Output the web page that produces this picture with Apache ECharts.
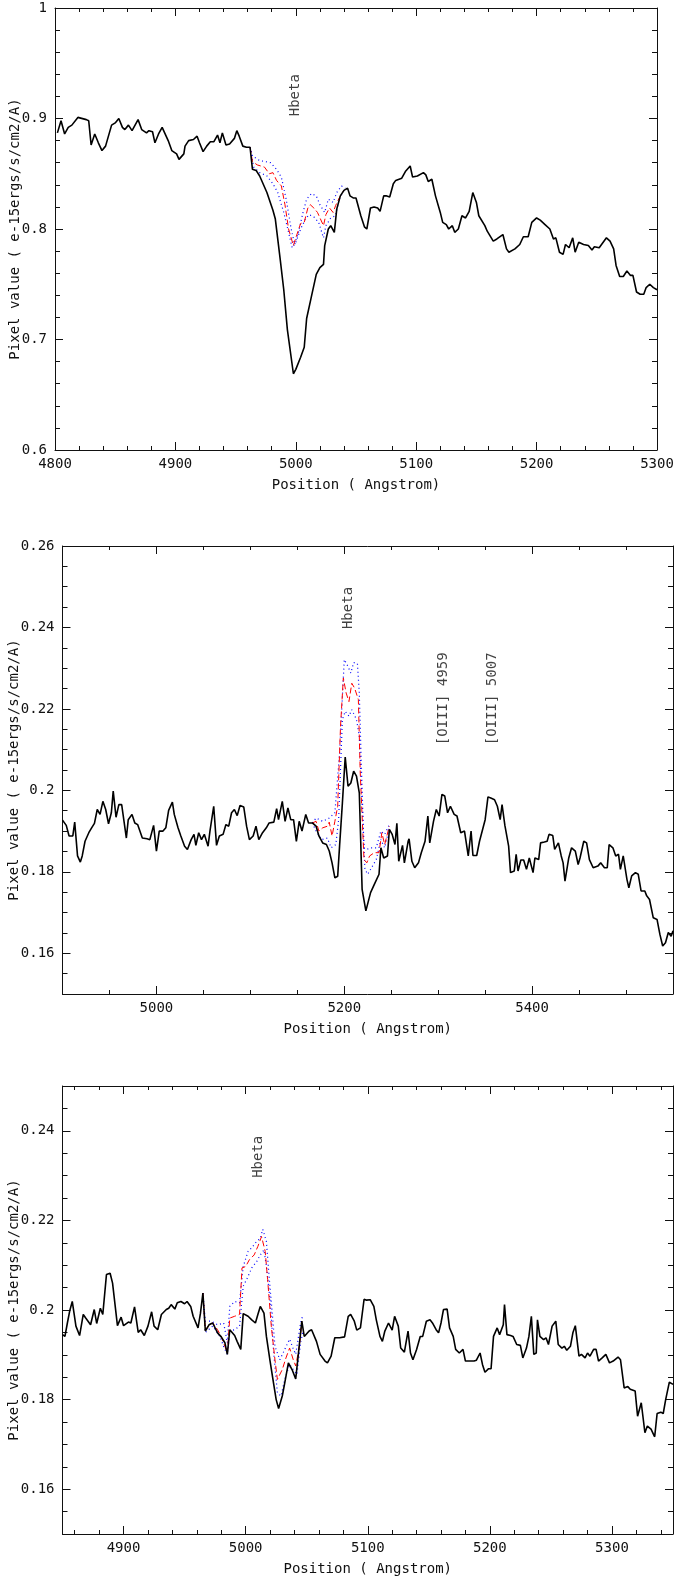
<!doctype html>
<html>
<head>
<meta charset="UTF-8">
<title>Hbeta fits</title>
<script src="https://cdn.jsdelivr.net/npm/echarts@6.0.0/dist/echarts.min.js"></script>
<style>
  html, body { margin: 0; padding: 0; background: #fff; }
  #chart { width: 674px; height: 1577px; }
</style>
</head>
<body>
<div id="chart"></div>
<script>
// ---- data: [wavelength (Angstrom), pixel value] ----
var obs1 = [[4802,0.887],[4805,0.898],[4808,0.886],[4811,0.892],[4814,0.894],[4819,0.901],[4826,0.899],[4828,0.898],[4830,0.876],[4833,0.886],[4836,0.878],[4839,0.871],[4842,0.875],[4847,0.894],[4850,0.896],[4853,0.900],[4856,0.892],[4858,0.890],[4861,0.894],[4864,0.889],[4869,0.899],[4872,0.890],[4876,0.887],[4878,0.889],[4881,0.888],[4883,0.878],[4886,0.886],[4889,0.892],[4894,0.880],[4897,0.871],[4901,0.868],[4903,0.863],[4907,0.868],[4908,0.875],[4911,0.880],[4915,0.881],[4918,0.884],[4920,0.878],[4923,0.870],[4926,0.875],[4929,0.879],[4932,0.879],[4935,0.885],[4937,0.878],[4939,0.887],[4942,0.876],[4945,0.877],[4949,0.882],[4951,0.889],[4953,0.884],[4956,0.875],[4959,0.874],[4962,0.874],[4964,0.854],[4967,0.853],[4970,0.848],[4976,0.833],[4981,0.817],[4983,0.809],[4987,0.773],[4990,0.745],[4993,0.709],[4998,0.669],[5000,0.673],[5004,0.684],[5007,0.693],[5009,0.719],[5013,0.739],[5017,0.759],[5020,0.765],[5023,0.768],[5024,0.785],[5027,0.800],[5029,0.803],[5032,0.797],[5034,0.818],[5037,0.830],[5040,0.835],[5043,0.837],[5045,0.830],[5048,0.828],[5050,0.828],[5054,0.812],[5057,0.802],[5059,0.800],[5062,0.819],[5065,0.820],[5068,0.819],[5070,0.816],[5073,0.830],[5075,0.830],[5078,0.829],[5081,0.841],[5083,0.844],[5088,0.846],[5091,0.852],[5095,0.857],[5097,0.847],[5101,0.848],[5106,0.851],[5108,0.849],[5110,0.843],[5113,0.845],[5116,0.830],[5120,0.815],[5122,0.806],[5125,0.804],[5127,0.800],[5130,0.803],[5132,0.797],[5135,0.800],[5138,0.812],[5141,0.810],[5144,0.816],[5147,0.833],[5150,0.824],[5152,0.812],[5157,0.803],[5159,0.798],[5164,0.789],[5167,0.791],[5172,0.795],[5175,0.782],[5177,0.779],[5182,0.782],[5186,0.786],[5189,0.793],[5193,0.793],[5196,0.806],[5200,0.810],[5203,0.808],[5207,0.804],[5211,0.800],[5214,0.791],[5216,0.792],[5219,0.779],[5222,0.777],[5224,0.786],[5227,0.783],[5230,0.792],[5232,0.779],[5235,0.788],[5239,0.786],[5243,0.785],[5246,0.781],[5248,0.784],[5252,0.783],[5258,0.792],[5261,0.789],[5264,0.782],[5266,0.767],[5269,0.757],[5272,0.757],[5275,0.762],[5278,0.758],[5280,0.758],[5283,0.743],[5286,0.741],[5289,0.741],[5291,0.747],[5294,0.750],[5297,0.747],[5300,0.745]];
var fit1 = [[4962,0.874],[4964,0.861],[4968,0.858],[4974,0.856],[4978,0.850],[4981,0.851],[4984,0.844],[4988,0.839],[4991,0.822],[4994,0.800],[4998,0.785],[5000,0.792],[5004,0.805],[5007,0.806],[5010,0.819],[5012,0.822],[5015,0.819],[5018,0.815],[5023,0.803],[5025,0.813],[5028,0.819],[5031,0.815],[5033,0.821],[5036,0.828],[5040,0.835]];
var hi1 = [[4962,0.874],[4964,0.866],[4970,0.862],[4979,0.860],[4984,0.854],[4988,0.847],[4992,0.827],[4996,0.801],[4999,0.786],[5002,0.796],[5006,0.815],[5009,0.827],[5013,0.832],[5017,0.830],[5020,0.822],[5024,0.815],[5027,0.827],[5031,0.824],[5034,0.833],[5038,0.839],[5041,0.837]];
var lo1 = [[4962,0.874],[4965,0.856],[4970,0.851],[4976,0.848],[4981,0.841],[4985,0.833],[4990,0.815],[4994,0.797],[4997,0.783],[5000,0.788],[5004,0.800],[5008,0.809],[5011,0.813],[5015,0.811],[5019,0.806],[5023,0.792],[5025,0.803],[5029,0.810],[5033,0.812],[5036,0.827],[5040,0.835]];

var obs2 = [[4900,0.1927],[4904,0.1914],[4907,0.1888],[4911,0.1888],[4913,0.1922],[4916,0.1839],[4919,0.1824],[4921,0.1839],[4924,0.1875],[4928,0.1896],[4931,0.1908],[4934,0.1919],[4937,0.1953],[4940,0.1941],[4943,0.1973],[4946,0.1953],[4949,0.1918],[4952,0.1945],[4954,0.1998],[4957,0.1934],[4960,0.1965],[4963,0.1965],[4968,0.1883],[4970,0.1928],[4974,0.1941],[4977,0.1920],[4980,0.1916],[4985,0.1883],[4990,0.1881],[4993,0.1879],[4997,0.1914],[5000,0.1851],[5003,0.1900],[5007,0.1900],[5010,0.1908],[5013,0.1951],[5017,0.1971],[5019,0.1941],[5023,0.1908],[5026,0.1888],[5030,0.1863],[5033,0.1855],[5037,0.1879],[5040,0.1892],[5042,0.1865],[5045,0.1896],[5048,0.1879],[5051,0.1892],[5055,0.1863],[5057,0.1900],[5061,0.1961],[5064,0.1865],[5067,0.1888],[5071,0.1892],[5074,0.1916],[5077,0.1912],[5080,0.1945],[5083,0.1953],[5086,0.1938],[5089,0.1963],[5093,0.1959],[5096,0.1912],[5099,0.1879],[5103,0.1888],[5106,0.1912],[5109,0.1879],[5113,0.1896],[5117,0.1908],[5120,0.1920],[5125,0.1922],[5128,0.1955],[5130,0.1928],[5134,0.1973],[5137,0.1924],[5140,0.1957],[5143,0.1928],[5146,0.1928],[5149,0.1875],[5152,0.1924],[5155,0.1900],[5159,0.1941],[5162,0.1920],[5166,0.1920],[5170,0.1912],[5173,0.1888],[5177,0.1871],[5181,0.1867],[5184,0.1851],[5187,0.1822],[5190,0.1785],[5193,0.1789],[5195,0.1863],[5198,0.1969],[5201,0.2082],[5204,0.2010],[5207,0.2018],[5210,0.2047],[5213,0.2035],[5216,0.1994],[5219,0.1757],[5223,0.1704],[5225,0.1708],[5228,0.1749],[5232,0.1769],[5237,0.1794],[5239,0.1859],[5242,0.1834],[5246,0.1839],[5248,0.1904],[5251,0.1892],[5254,0.1867],[5256,0.1919],[5258,0.1826],[5262,0.1865],[5264,0.1822],[5268,0.1875],[5269,0.1881],[5272,0.1826],[5275,0.1810],[5279,0.1822],[5282,0.1847],[5286,0.1875],[5289,0.1937],[5291,0.1871],[5295,0.1924],[5298,0.1953],[5301,0.1937],[5304,0.1990],[5307,0.1986],[5310,0.1945],[5313,0.1961],[5317,0.1941],[5320,0.1937],[5324,0.1896],[5328,0.1900],[5332,0.1839],[5335,0.1900],[5337,0.1840],[5341,0.1840],[5344,0.1875],[5346,0.1873],[5350,0.1928],[5353,0.1984],[5356,0.1981],[5360,0.1977],[5363,0.1961],[5366,0.1928],[5368,0.1965],[5371,0.1914],[5375,0.1863],[5377,0.1798],[5381,0.1802],[5383,0.1843],[5385,0.1802],[5388,0.1829],[5391,0.1829],[5394,0.1806],[5397,0.1834],[5401,0.1798],[5403,0.1834],[5407,0.1830],[5409,0.1871],[5413,0.1873],[5416,0.1875],[5418,0.1892],[5422,0.1889],[5424,0.1855],[5428,0.1871],[5431,0.1839],[5433,0.1822],[5435,0.1777],[5439,0.1834],[5442,0.1859],[5446,0.1851],[5449,0.1818],[5451,0.1834],[5455,0.1875],[5458,0.1871],[5461,0.1830],[5465,0.1810],[5470,0.1814],[5473,0.1822],[5477,0.1810],[5480,0.1810],[5482,0.1867],[5486,0.1859],[5489,0.1839],[5492,0.1843],[5494,0.1806],[5497,0.1839],[5501,0.1781],[5503,0.1761],[5506,0.1790],[5510,0.1798],[5513,0.1794],[5516,0.1753],[5520,0.1753],[5522,0.1741],[5525,0.1732],[5529,0.1687],[5533,0.1683],[5536,0.1647],[5539,0.1618],[5542,0.1626],[5545,0.1651],[5548,0.1642],[5550,0.1655]];
var fit2 = [[5166,0.1920],[5170,0.1924],[5173,0.1900],[5177,0.1908],[5182,0.1912],[5184,0.1922],[5187,0.1888],[5190,0.1924],[5193,0.1961],[5196,0.2157],[5199,0.2276],[5202,0.2239],[5205,0.2218],[5208,0.2263],[5211,0.2251],[5215,0.2223],[5217,0.2043],[5221,0.1830],[5224,0.1822],[5227,0.1839],[5232,0.1847],[5237,0.1847],[5240,0.1896],[5243,0.1867],[5248,0.1912]];
var hi2 = [[5166,0.1920],[5170,0.1932],[5177,0.1924],[5184,0.1932],[5190,0.1945],[5195,0.2092],[5200,0.2321],[5204,0.2304],[5207,0.2288],[5210,0.2314],[5214,0.2311],[5216,0.2239],[5218,0.2076],[5221,0.1859],[5224,0.1855],[5228,0.1859],[5234,0.1859],[5239,0.1900],[5243,0.1892],[5248,0.1916]];
var lo2 = [[5166,0.1920],[5170,0.1900],[5176,0.1879],[5182,0.1883],[5186,0.1859],[5191,0.1867],[5194,0.1928],[5198,0.2174],[5201,0.2194],[5205,0.2182],[5208,0.2198],[5213,0.2174],[5216,0.2133],[5219,0.1969],[5222,0.1806],[5225,0.1794],[5230,0.1814],[5234,0.1830],[5239,0.1879],[5243,0.1859],[5248,0.1908]];

var obs3 = [[4850,0.1945],[4852,0.1941],[4854,0.1971],[4856,0.1999],[4858,0.2019],[4861,0.1964],[4864,0.1943],[4867,0.1990],[4869,0.1982],[4873,0.1967],[4876,0.2001],[4878,0.1970],[4881,0.2004],[4883,0.1990],[4886,0.2079],[4889,0.2082],[4891,0.2060],[4895,0.1965],[4898,0.1984],[4900,0.1965],[4904,0.1973],[4906,0.1971],[4909,0.2007],[4912,0.1950],[4914,0.1956],[4917,0.1943],[4920,0.1964],[4923,0.1996],[4925,0.1964],[4928,0.1956],[4931,0.1990],[4935,0.2001],[4937,0.2004],[4939,0.2012],[4942,0.2002],[4944,0.2016],[4947,0.2019],[4950,0.2014],[4952,0.2019],[4955,0.2008],[4957,0.1986],[4961,0.1960],[4963,0.1993],[4965,0.2038],[4967,0.1953],[4970,0.1967],[4973,0.1971],[4977,0.1949],[4980,0.1940],[4983,0.1927],[4985,0.1901],[4987,0.1956],[4991,0.1943],[4993,0.1930],[4996,0.1912],[4998,0.1992],[5002,0.1986],[5005,0.1978],[5008,0.1971],[5010,0.1990],[5012,0.2008],[5015,0.1993],[5017,0.1941],[5020,0.1886],[5023,0.1834],[5025,0.1800],[5027,0.1780],[5030,0.1808],[5032,0.1837],[5035,0.1882],[5038,0.1867],[5041,0.1846],[5043,0.1897],[5046,0.1975],[5048,0.1941],[5052,0.1953],[5054,0.1956],[5058,0.1930],[5061,0.1901],[5065,0.1886],[5067,0.1882],[5070,0.1897],[5073,0.1938],[5077,0.1938],[5081,0.1940],[5084,0.1986],[5086,0.1990],[5089,0.1975],[5091,0.1955],[5094,0.1960],[5097,0.2024],[5099,0.2022],[5102,0.2023],[5105,0.2008],[5107,0.1978],[5110,0.1941],[5112,0.1930],[5114,0.1953],[5117,0.1971],[5120,0.1955],[5122,0.1986],[5125,0.1964],[5127,0.1915],[5130,0.1906],[5133,0.1953],[5135,0.1904],[5137,0.1889],[5140,0.1912],[5143,0.1941],[5145,0.1941],[5148,0.1975],[5151,0.1978],[5153,0.1971],[5156,0.1956],[5158,0.1949],[5160,0.1971],[5162,0.2001],[5165,0.2002],[5167,0.1960],[5170,0.1941],[5172,0.1912],[5175,0.1904],[5178,0.1912],[5180,0.1886],[5184,0.1886],[5187,0.1886],[5189,0.1888],[5192,0.1904],[5194,0.1878],[5196,0.1861],[5199,0.1869],[5201,0.1869],[5203,0.1941],[5206,0.1960],[5208,0.1945],[5211,0.1967],[5212,0.2012],[5214,0.1945],[5217,0.1943],[5219,0.1941],[5222,0.1923],[5225,0.1921],[5227,0.1893],[5230,0.1915],[5232,0.1941],[5234,0.1986],[5236,0.1901],[5238,0.1904],[5239,0.1978],[5241,0.1941],[5244,0.1934],[5246,0.1938],[5248,0.1923],[5251,0.1964],[5254,0.1975],[5256,0.1923],[5259,0.1915],[5261,0.1919],[5263,0.1910],[5266,0.1919],[5268,0.1949],[5270,0.1965],[5273,0.1897],[5275,0.1901],[5278,0.1893],[5280,0.1904],[5282,0.1897],[5285,0.1912],[5287,0.1912],[5289,0.1886],[5292,0.1893],[5295,0.1901],[5298,0.1882],[5301,0.1886],[5305,0.1895],[5307,0.1889],[5310,0.1826],[5313,0.1829],[5315,0.1823],[5319,0.1819],[5321,0.1763],[5324,0.1793],[5327,0.1726],[5329,0.1741],[5332,0.1734],[5335,0.1717],[5337,0.1769],[5340,0.1772],[5342,0.1769],[5344,0.1800],[5347,0.1839],[5350,0.1834]];
var fit3 = [[4965,0.2038],[4967,0.1955],[4970,0.1967],[4973,0.1971],[4977,0.1956],[4980,0.1941],[4983,0.1919],[4985,0.1904],[4987,0.1982],[4991,0.1986],[4995,0.1990],[4997,0.2094],[5000,0.2097],[5003,0.2112],[5007,0.2123],[5010,0.2142],[5013,0.2164],[5016,0.2131],[5018,0.2068],[5021,0.1964],[5024,0.1889],[5026,0.1845],[5030,0.1867],[5033,0.1893],[5036,0.1915],[5039,0.1889],[5041,0.1875],[5044,0.1919],[5046,0.1975]];
var hi3 = [[4965,0.2038],[4967,0.1975],[4972,0.1975],[4977,0.1967],[4982,0.1971],[4985,0.1927],[4987,0.2008],[4991,0.2019],[4995,0.2016],[4998,0.2097],[5002,0.2131],[5005,0.2139],[5009,0.2153],[5012,0.2160],[5014,0.2180],[5017,0.2153],[5019,0.2082],[5022,0.1986],[5024,0.1919],[5028,0.1889],[5032,0.1912],[5036,0.1935],[5039,0.1913],[5041,0.1901],[5045,0.1971],[5047,0.1990]];
var lo3 = [[4965,0.2038],[4967,0.1950],[4973,0.1964],[4979,0.1941],[4982,0.1918],[4985,0.1901],[4987,0.1953],[4991,0.1956],[4995,0.1964],[4998,0.2053],[5002,0.2075],[5005,0.2094],[5009,0.2108],[5012,0.2123],[5015,0.2134],[5017,0.2097],[5020,0.2023],[5023,0.1904],[5026,0.1815],[5029,0.1808],[5032,0.1845],[5036,0.1878],[5039,0.1867],[5042,0.1856],[5045,0.1927],[5047,0.1953]];

// line identifications: [wavelength, value where the text starts]
var notes1 = [{name: 'Hbeta', value: [5000, 0.902]}];
var notes2 = [{name: 'Hbeta', value: [5204, 0.2396]}, {name: '[OIII] 4959', value: [5306, 0.2111]}, {name: '[OIII] 5007', value: [5358, 0.2111]}];
var notes3 = [{name: 'Hbeta', value: [5010, 0.2295]}];

// tick labels
var xLabels1 = [4800, 4900, 5000, 5100, 5200, 5300];
var yLabels1 = [0.6, 0.7, 0.8, 0.9, 1];
var xLabels2 = [5000, 5200, 5400];
var yLabels2 = [0.16, 0.18, 0.2, 0.22, 0.24, 0.26];
var xLabels3 = [4900, 5000, 5100, 5200, 5300];
var yLabels3 = [0.16, 0.18, 0.2, 0.22, 0.24];

var FONT = 'DejaVu Sans Mono';
var INK = '#111';
var X_NAME = 'Position ( Angstrom)';
var Y_NAME = 'Pixel value ( e-15ergs/s/cm2/A)';

// minor tick positions
function steps(start, stop, step) {
	var out = [];
	for (var v = start; v <= stop + step / 1000; v += step) {
		out.push(Math.round(v * 1e6) / 1e6);
	}
	return out;
}

var panels = [
	{grid: {left: 55, top: 8, width: 602, height: 442},
	 xMin: 4800, xMax: 5300, xMajor: xLabels1, xMinor: steps(4800, 5300, 20),
	 yMin: 0.6, yMax: 1, yMajor: yLabels1, yMinor: steps(0.6, 1, 0.02),
	 yGap: 33, obs: obs1, fit: fit1, hi: hi1, lo: lo1, notes: notes1},
	{grid: {left: 62.5, top: 546, width: 610.5, height: 448},
	 xMin: 4900, xMax: 5550, xMajor: xLabels2, xMinor: steps(4900, 5550, 50),
	 yMin: 0.15, yMax: 0.26, yMajor: yLabels2, yMinor: steps(0.15, 0.26, 0.005),
	 yGap: 41, obs: obs2, fit: fit2, hi: hi2, lo: lo2, notes: notes2},
	{grid: {left: 62.5, top: 1086, width: 610.5, height: 448},
	 xMin: 4850, xMax: 5350, xMajor: xLabels3, xMinor: steps(4860, 5340, 20),
	 yMin: 0.15, yMax: 0.25, yMajor: yLabels3, yMinor: steps(0.15, 0.25, 0.005),
	 yGap: 41, obs: obs3, fit: fit3, hi: hi3, lo: lo3, notes: notes3}
];

function axis(kind, gi, pos, p, major, withLine, withLabel, len) {
	var isX = kind === 'x';
	var ax = {
		type: 'value',
		gridIndex: gi,
		position: pos,
		min: isX ? p.xMin : p.yMin,
		max: isX ? p.xMax : p.yMax,
		splitLine: {show: false},
		axisLine: {show: withLine, onZero: false, lineStyle: {color: INK, width: 1}},
		axisTick: {show: true, inside: true, length: len, customValues: major, lineStyle: {color: INK, width: 1}},
		axisLabel: {
			show: withLabel, customValues: major, margin: isX ? 7 : 8,
			showMinLabel: true, showMaxLabel: true, hideOverlap: false,
			color: INK, fontFamily: FONT, fontSize: 14,
			formatter: function(v) { return String(v); }
		}
	};
	if (withLabel) {
		ax.name = isX ? X_NAME : Y_NAME;
		ax.nameLocation = 'middle';
		ax.nameGap = isX ? 28 : p.yGap;
		ax.nameMoveOverlap = false;
		ax.nameTextStyle = {color: INK, fontFamily: FONT, fontSize: 14};
	}
	return ax;
}

var grids = [], xAxes = [], yAxes = [], series = [];
panels.forEach(function(p, gi) {
	var g = p.grid;
	grids.push({left: g.left, top: g.top, width: g.width, height: g.height, containLabel: false, outerBoundsMode: 'none'});
	var xi = xAxes.length, yi = yAxes.length;
	xAxes.push(axis('x', gi, 'bottom', p, p.xMajor, true, true, 8));
	xAxes.push(axis('x', gi, 'bottom', p, p.xMinor, false, false, 4));
	xAxes.push(axis('x', gi, 'top', p, p.xMajor, true, false, 8));
	xAxes.push(axis('x', gi, 'top', p, p.xMinor, false, false, 4));
	yAxes.push(axis('y', gi, 'left', p, p.yMajor, true, true, 8));
	yAxes.push(axis('y', gi, 'left', p, p.yMinor, false, false, 5));
	yAxes.push(axis('y', gi, 'right', p, p.yMajor, true, false, 8));
	yAxes.push(axis('y', gi, 'right', p, p.yMinor, false, false, 5));

	var base = {type: 'line', xAxisIndex: xi, yAxisIndex: yi, showSymbol: false, symbol: 'none', silent: true, animation: false};
	series.push(Object.assign({}, base, {data: p.hi, z: 2, lineStyle: {color: '#0000ff', width: 1.2, type: [1, 3]}}));
	series.push(Object.assign({}, base, {data: p.lo, z: 2, lineStyle: {color: '#0000ff', width: 1.2, type: [1, 3]}}));
	series.push(Object.assign({}, base, {data: p.fit, z: 3, lineStyle: {color: '#ff0000', width: 1, type: [6, 3]}}));
	series.push(Object.assign({}, base, {data: p.obs, z: 4, lineStyle: {color: '#000000', width: 1.6}}));
	series.push({
		type: 'scatter', xAxisIndex: xi, yAxisIndex: yi, data: p.notes,
		symbol: 'circle', symbolSize: 1, itemStyle: {color: 'rgba(0,0,0,0)'},
		silent: true, animation: false, z: 5,
		label: {
			show: true, formatter: '{b}', position: 'inside', rotate: 90,
			align: 'left', verticalAlign: 'middle',
			color: INK, fontFamily: FONT, fontSize: 14
		}
	});
});

var chart = echarts.init(document.getElementById('chart'), null, {renderer: 'canvas'});
chart.setOption({
	backgroundColor: '#ffffff',
	animation: false,
	grid: grids,
	xAxis: xAxes,
	yAxis: yAxes,
	series: series
});
</script>
</body>
</html>
